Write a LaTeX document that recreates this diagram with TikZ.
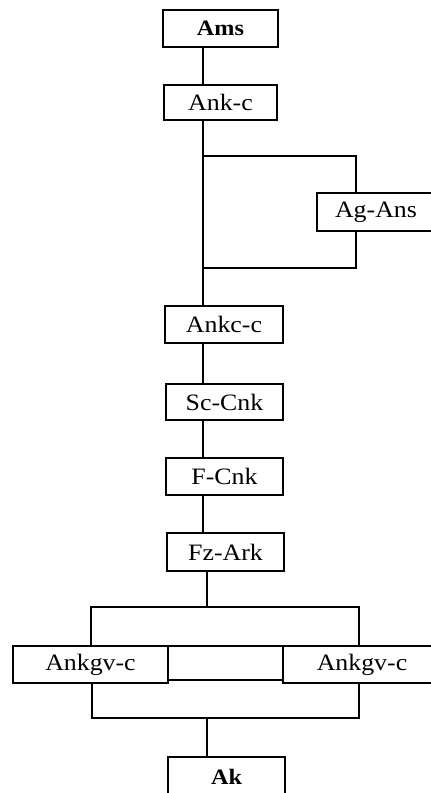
\documentclass[tikz,border=0pt]{standalone}
\usepackage{fontspec}
\setmainfont{Liberation Serif}[FakeStretch=1.1]
\usetikzlibrary{positioning}
\usetikzlibrary{calc}
\tikzset{
	every path/.style={line width=1.8bp},
	stagebox/.style={draw,inner sep=0pt,minimum width=117bp,minimum height=37bp,
		font=\fontsize{23.5bp}{26bp}\selectfont},
}

\begin{document}
\begin{tikzpicture}[x=1bp,y=-1bp]
	\useasboundingbox (0,0) rectangle (430,793);
	
	% boxes.......................
	\node [stagebox,minimum width=115bp,font=\fontsize{22bp}{26bp}\selectfont\bfseries] (ams) at (220.5,28.5) {Ams};
	\node [stagebox,minimum width=113bp,minimum height=35bp] (ankc) at (220.5,102.5) {Ank-c};
	\node [stagebox,minimum width=118bp,minimum height=38bp] (agans) at (376,212) {Ag-Ans};
	\node [stagebox,minimum width=118bp] (ankcc) at (224,324.5) {Ankc-c};
	\node [stagebox,minimum height=36bp] (sccnk) at (224.5,402) {Sc-Cnk};
	\node [stagebox] (fcnk) at (224.5,476.5) {F-Cnk};
	\node [stagebox,minimum height=38bp] (fzark) at (225.5,552) {Fz-Ark};
	\node [stagebox,minimum width=155bp] (ankgvl) at (90.5,664.5) {Ankgv-c};
	\node [stagebox,minimum width=115bp,minimum height=34bp] (gap) at (225.5,663) {};
	\node [stagebox,minimum width=158bp] (ankgvr) at (362,664.5) {Ankgv-c};
	\node [stagebox,minimum height=40bp,font=\fontsize{22bp}{26bp}\selectfont\bfseries] (ak) at (226.5,777) {Ak};
	
	% spine.......................
	\coordinate (spine) at (203,0);
	\coordinate (stem) at (207,0);
	\coordinate (bypass) at (356,0);
	\coordinate (splitA) at (203,156);
	\coordinate (joinA) at (203,268);
	\draw (ams.south -| spine) to (ankc.north -| spine);
	\draw (ankc.south -| spine) to (ankcc.north -| spine);
	
	% Ag-Ans branch...................
	\draw (splitA) -| (agans.north -| bypass);
	\draw (agans.south -| bypass) |- (joinA);
	
	% chain.......................
	\draw (ankcc.south -| spine) to (sccnk.north -| spine);
	\draw (sccnk.south -| spine) to (fcnk.north -| spine);
	\draw (fcnk.south -| spine) to (fzark.north -| spine);
	
	% fork to Ankgv-c.................
	\coordinate (forkL) at (91,607);
	\coordinate (forkR) at (359,607);
	\draw (fzark.south -| stem) to (forkL -| stem);
	\draw (ankgvl.north -| forkL) -- (forkL) -- (forkR) -- (ankgvr.north -| forkR);
	
	% join to Ak......................
	\coordinate (joinL) at (92,718);
	\coordinate (joinR) at (359,718);
	\draw (ankgvl.south -| joinL) -- (joinL) -- (joinR) -- (ankgvr.south -| joinR);
	\draw (joinL -| stem) to (ak.north -| stem);
\end{tikzpicture}
\end{document}
